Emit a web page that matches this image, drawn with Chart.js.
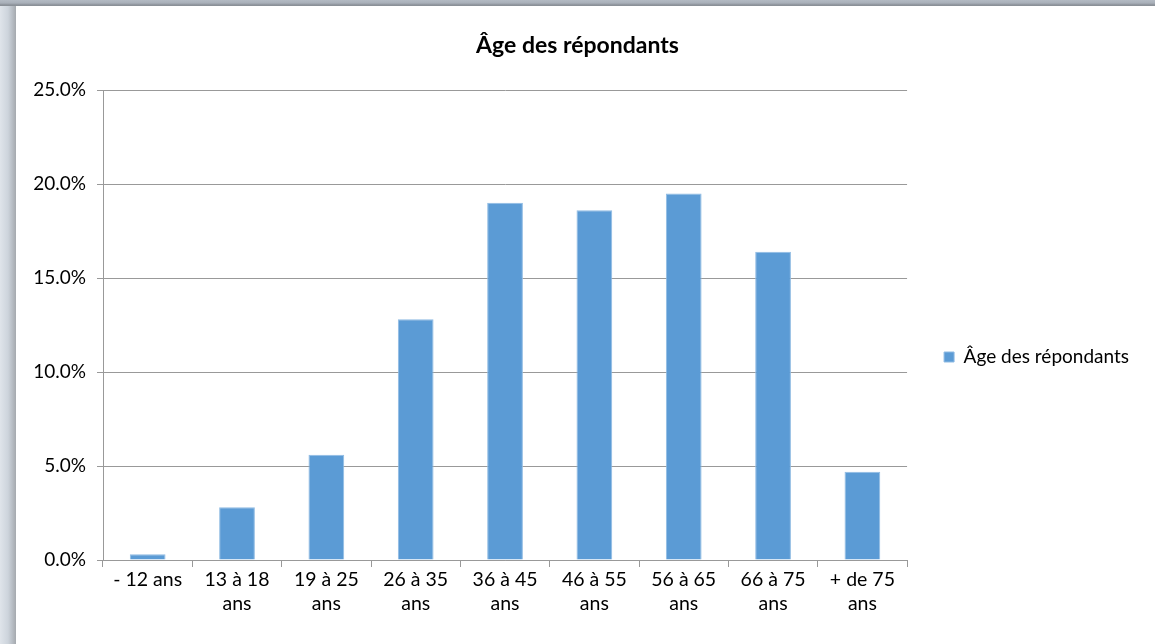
<!DOCTYPE html>
<html>
<head>
<meta charset="utf-8">
<script src="https://cdn.jsdelivr.net/npm/chart.js@4/dist/chart.umd.min.js"></script>
<style>
  html, body { margin: 0; padding: 0; }
  body { width: 1155px; height: 644px; overflow: hidden; position: relative;
         background: linear-gradient(to right, #dfe4ea 0px, #cdd4dc 8px, #b9bfc6 12px, #a5a9ae 16px); }
  #topbar { position: absolute; left: 0; top: 0; width: 1155px; height: 6px;
            background: linear-gradient(to bottom, #b3bac3 0px, #a9b0b9 3px, #8b9198 5px); }
  #wrap { position: absolute; left: 16px; top: 6px; width: 1139px; height: 638px; background: #ffffff; }
</style>
</head>
<body>
<div id="topbar"></div>
<div id="wrap"><canvas id="c" width="1139" height="638"></canvas></div>
<script>
const categories = [
  ['- 12 ans'],
  ['13 à 18', 'ans'],
  ['19 à 25', 'ans'],
  ['26 à 35', 'ans'],
  ['36 à 45', 'ans'],
  ['46 à 55', 'ans'],
  ['56 à 65', 'ans'],
  ['66 à 75', 'ans'],
  ['+ de 75', 'ans']
];
const seriesName = 'Âge des répondants';
const values = [0.3, 2.8, 5.6, 12.8, 19.0, 18.6, 19.5, 16.4, 4.7];
const yTicks = [0, 5, 10, 15, 20, 25];

const gridColor = '#999999';

const legendShift = {
  id: 'legendShift',
  afterLayout(chart) {
    if (chart.legend) { chart.legend.top += 43; chart.legend.bottom += 43; }
  }
};

new Chart(document.getElementById('c'), {
  type: 'bar',
  data: {
    labels: categories,
    datasets: [{
      label: seriesName,
      data: values,
      backgroundColor: '#5b9bd5',
      borderColor: '#8fbbe3',
      borderWidth: 1,
      categoryPercentage: 1.0,
      barPercentage: 0.4
    }]
  },
  plugins: [legendShift],
  options: {
    responsive: false,
    animation: false,
    layout: { padding: { left: 0, right: 16, top: 0, bottom: 22 } },
    plugins: {
      title: {
        display: true,
        text: 'Âge des répondants',
        color: '#000000',
        font: { family: 'Lato', size: 23, weight: 'bold', lineHeight: 1.2 },
        padding: { top: 26.2, bottom: 30.2 }
      },
      legend: {
        display: true,
        position: 'right',
        labels: {
          color: '#000000',
          font: { family: 'Lato', size: 19 },
          boxWidth: 10,
          boxHeight: 10,
          padding: 37
        }
      },
      tooltip: { enabled: false }
    },
    scales: {
      x: {
        afterFit: s => { s.height = 62; },
        grid: {
          drawOnChartArea: false,
          drawTicks: true,
          tickLength: 7,
          color: gridColor,
          offset: true
        },
        border: { display: true, color: gridColor, width: 1 },
        ticks: {
          color: '#000000',
          font: { family: 'Lato', size: 19.5, lineHeight: 1.23 },
          padding: 1,
          maxRotation: 0,
          autoSkip: false
        }
      },
      y: {
        min: 0,
        max: 25,
        afterFit: s => { s.width = 87; },
        afterBuildTicks: s => { s.ticks = yTicks.map(v => ({ value: v })); },
        grid: {
          color: gridColor,
          lineWidth: 1,
          tickLength: 6,
          drawTicks: true
        },
        border: { display: true, color: gridColor, width: 1 },
        ticks: {
          color: '#000000',
          font: { family: 'Lato', size: 19 },
          padding: 11,
          callback: v => v.toFixed(1) + '%'
        }
      }
    }
  }
});
</script>
</body>
</html>
